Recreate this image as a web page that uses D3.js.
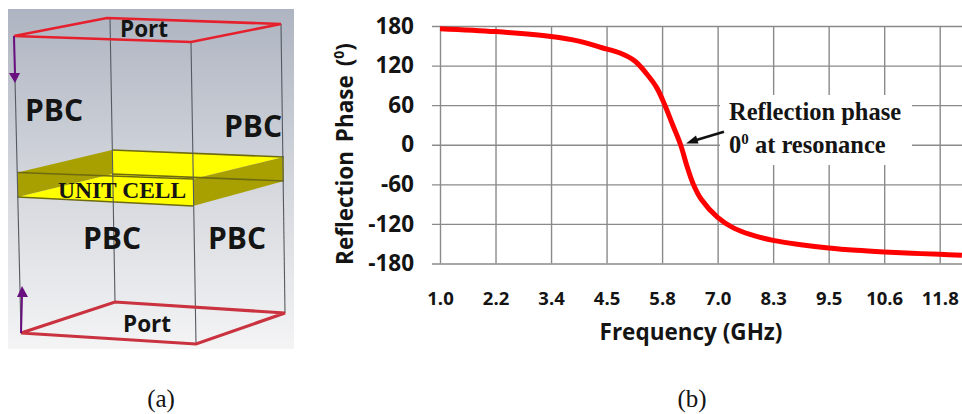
<!DOCTYPE html>
<html>
<head>
<meta charset="utf-8">
<script src="https://cdnjs.cloudflare.com/ajax/libs/d3/7.8.5/d3.min.js"></script>
<style>
  html, body { margin: 0; padding: 0; background: #fff; overflow: hidden; }
  text { fill: #141414; }
  .sans { font-family: "Open Sans", sans-serif; font-weight: 700; }
  .bold-sans { font-family: "Open Sans", sans-serif; font-weight: 700; }
  .serif { font-family: "Liberation Serif", serif; }
</style>
</head>
<body>
<script>
// reflection phase curve
const freq = [1.0, 2.2, 3.4, 4.0, 4.5, 4.89, 5.21, 5.46, 5.68, 5.86, 6.03, 6.2, 6.34, 6.47, 6.65, 7.0, 7.34, 7.7, 8.2, 8.8, 9.4, 10.0, 10.6, 11.2, 11.8, 12.28];
const phase = [176, 171.5, 164, 157, 147, 139, 127, 108, 87, 60, 30, 0, -33, -59, -83, -110, -126, -136, -145, -151.5, -156.5, -160, -162.5, -164.5, -166, -167.5];

const xLabels = ['1.0', '2.2', '3.4', '4.5', '5.8', '7.0', '8.3', '9.5', '10.6', '11.8'];
const yTicks = [-180, -120, -60, 0, 60, 120, 180];

// left panel, the simulation box in page pixels
const portTop = [[14, 36], [107, 18], [281, 24], [191, 42]];
const portBottom = [[21, 333], [115, 302], [285, 313], [196, 344]];
const cellLeftFace = [[17.5, 172.5], [112, 150], [112, 174], [17.5, 197]];
const cellRightFace = [[193, 179], [284, 157], [284, 181], [193, 206]];
const cellTopFace = [[112, 150], [284, 157], [193, 179], [112, 174]];
const cellLowFace = [[17.5, 197], [112, 174], [193, 179], [193, 206]];
const cellEdges = [
  [[17.5, 172.5], [193, 179]],
  [[112, 174], [284, 181]],
  [[112, 150], [284, 157]],
  [[17.5, 197], [193, 206]]
];
const boxEdges = [
  [[14, 36], [21, 333]],
  [[110, 18], [115, 302]],
  [[281, 24], [285, 313]],
  [[191, 42], [196, 344]]
];
const pbcLabels = [[25, 121], [224, 137], [83, 249], [208, 249]];

const width = 962, height = 414;
const svg = d3.select('body').append('svg')
  .attr('width', width)
  .attr('height', height)
  .style('display', 'block');

const defs = svg.append('defs');
const grad = defs.append('linearGradient').attr('id', 'bg')
  .attr('x1', 0).attr('y1', 0).attr('x2', 0).attr('y2', 1);
grad.append('stop').attr('offset', '0%').attr('stop-color', '#aeb4c1');
grad.append('stop').attr('offset', '50%').attr('stop-color', '#d3d6dc');
grad.append('stop').attr('offset', '100%').attr('stop-color', '#f4f4f5');

// ---- panel (a)
const poly = d3.line().curve(d3.curveLinearClosed);
const seg = d3.line();
const a = svg.append('g');

a.append('rect').attr('x', 8).attr('y', 9).attr('width', 286).attr('height', 340).attr('fill', 'url(#bg)');

a.append('path').attr('d', poly(cellTopFace)).attr('fill', '#ffff00');
a.append('path').attr('d', poly(cellLowFace)).attr('fill', '#ffff00');
a.append('path').attr('d', poly(cellLeftFace)).attr('fill', '#a8a000');
a.append('path').attr('d', poly(cellRightFace)).attr('fill', '#a8a000');
a.selectAll('.cell-edge').data(cellEdges).join('path')
  .attr('class', 'cell-edge')
  .attr('d', seg).attr('fill', 'none').attr('stroke', '#6e6a10').attr('stroke-width', 1.6);

a.selectAll('.box-edge').data(boxEdges).join('path')
  .attr('class', 'box-edge')
  .attr('d', seg).attr('fill', 'none').attr('stroke', '#555a60').attr('stroke-width', 1.1);

a.append('path').attr('d', poly(portTop)).attr('fill', 'none').attr('stroke', '#e5202c').attr('stroke-width', 2.6);
a.append('path').attr('d', poly(portBottom)).attr('fill', 'none').attr('stroke', '#c9323e').attr('stroke-width', 3.2);

// port arrows
a.append('path').attr('d', seg([[14, 36], [15, 75]])).attr('stroke', '#6a0f80').attr('stroke-width', 2).attr('fill', 'none');
a.append('path').attr('d', poly([[9, 73], [20, 73], [15, 83]])).attr('fill', '#6a0f80');
a.append('path').attr('d', seg([[21, 333], [22, 295]])).attr('stroke', '#6a0f80').attr('stroke-width', 2).attr('fill', 'none');
a.append('path').attr('d', poly([[17, 297], [28, 297], [22, 286]])).attr('fill', '#6a0f80');

a.selectAll('.pbc').data(pbcLabels).join('text')
  .attr('class', 'pbc bold-sans')
  .attr('x', d => d[0]).attr('y', d => d[1])
  .attr('font-size', 30).text('PBC');
a.append('text').attr('class', 'bold-sans').attr('x', 120).attr('y', 37).attr('font-size', 22.5).text('Port');
a.append('text').attr('class', 'bold-sans').attr('x', 123).attr('y', 332).attr('font-size', 22.5).text('Port');
a.append('text').attr('class', 'serif').attr('x', 58).attr('y', 197.5)
  .attr('font-size', 23.5).attr('font-weight', 700).text('UNIT CELL');

// ---- panel (b)
const plotL = 440, plotR = 939.7, plotT = 26, plotB = 263.5;
const x = d3.scaleLinear().domain([1, 11.8]).range([plotL, plotR]);
const xCat = d3.scalePoint().domain(xLabels).range([plotL, plotR]);
const y = d3.scaleLinear().domain([-180, 180]).range([plotB, plotT]);

const yAxis = d3.axisLeft(y).tickValues(yTicks).tickFormat(d => String(d))
  .tickSizeInner(-(width - 432)).tickSizeOuter(0).tickPadding(18);
const xAxis = d3.axisBottom(xCat)
  .tickSizeInner(-(plotB - plotT)).tickSizeOuter(0).tickPadding(28);

const gy = svg.append('g').attr('transform', 'translate(432,0)').call(yAxis);
const gx = svg.append('g').attr('transform', `translate(0,${plotB})`).call(xAxis);
gy.select('.domain').remove();
gx.select('.domain').remove();
gy.selectAll('line').attr('stroke', '#8a8a8a').attr('stroke-width', 1.4);
gx.selectAll('line').attr('stroke', '#8a8a8a').attr('stroke-width', 1.4);
gy.selectAll('text').attr('class', 'sans').attr('font-size', 22.5).attr('fill', '#141414');
gx.selectAll('text').attr('class', 'sans').attr('font-size', 18.5).attr('fill', '#141414');

// white patch under the annotation
svg.append('rect').attr('x', 720).attr('y', 95).attr('width', 192).attr('height', 70).attr('fill', '#fff');

const line = d3.line()
  .x((d, i) => x(freq[i]))
  .y(d => y(d))
  .curve(d3.curveCatmullRom);
svg.append('path').datum(phase)
  .attr('d', line)
  .attr('fill', 'none')
  .attr('stroke', '#ff0000')
  .attr('stroke-width', 5);

svg.append('text').attr('class', 'sans')
  .attr('x', 691).attr('y', 340).attr('text-anchor', 'middle')
  .attr('font-size', 22.5).text('Frequency (GHz)');

const yTitle = svg.append('text').attr('class', 'sans')
  .attr('transform', 'translate(353,154) rotate(-90)')
  .attr('text-anchor', 'middle').attr('font-size', 22.5).attr('word-spacing', 3);
yTitle.append('tspan').text('Reflection Phase (');
yTitle.append('tspan').attr('font-size', 14).attr('dy', -9).text('0');
yTitle.append('tspan').attr('dy', 9).text(')');

// annotation
svg.append('path').attr('d', seg([[724, 131.7], [693, 141]]))
  .attr('stroke', '#111').attr('stroke-width', 2.6).attr('fill', 'none');
svg.append('path').attr('d', poly([[686, 143.5], [696, 135.5], [698.5, 143.5]])).attr('fill', '#111');

svg.append('text').attr('class', 'serif').attr('x', 729).attr('y', 120)
  .attr('font-size', 24.5).attr('font-weight', 700).text('Reflection phase');
const note = svg.append('text').attr('class', 'serif').attr('x', 729).attr('y', 152.5)
  .attr('font-size', 24.5).attr('font-weight', 700);
note.append('tspan').text('0');
note.append('tspan').attr('font-size', 15).attr('dy', -9).text('0');
note.append('tspan').attr('dy', 9).text(' at resonance');

// panel captions
svg.append('text').attr('class', 'serif').attr('x', 161).attr('y', 407)
  .attr('text-anchor', 'middle').attr('font-size', 25).text('(a)');
svg.append('text').attr('class', 'serif').attr('x', 692).attr('y', 407)
  .attr('text-anchor', 'middle').attr('font-size', 25).text('(b)');
</script>
</body>
</html>
